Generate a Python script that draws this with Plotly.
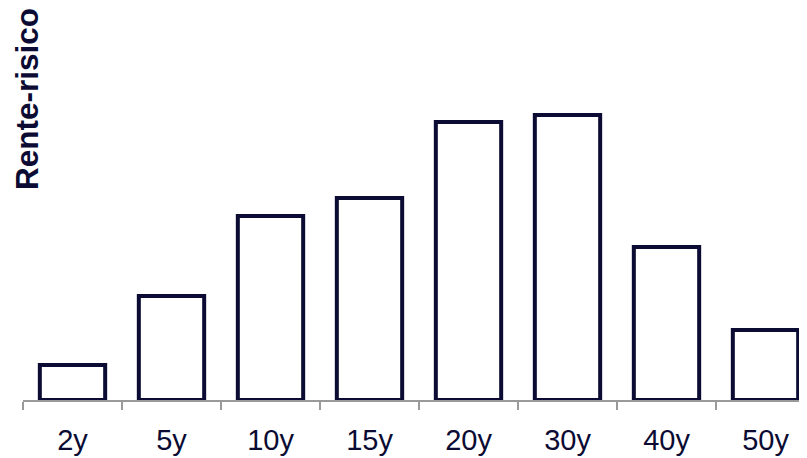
import plotly.graph_objects as go

categories = ["2y", "5y", "10y", "15y", "20y", "30y", "40y", "50y"]
values = [35, 104, 184, 202, 278, 285, 153, 70]
y_title = "Rente-risico"

navy = "#0b0b33"

fig = go.Figure(
    go.Bar(
        x=categories,
        y=values,
        marker=dict(color="white", line=dict(color=navy, width=4)),
        width=0.66,
    )
)

fig.update_layout(
    width=807,
    height=458,
    margin=dict(l=15, r=0, t=2, b=66),
    paper_bgcolor="white",
    plot_bgcolor="white",
    showlegend=False,
    font=dict(family="Liberation Sans, Arial, sans-serif", color=navy),
)

fig.update_xaxes(
    type="category",
    range=[-0.5, 7.5],
    showline=True,
    linecolor="#9a9a9a",
    linewidth=1.5,
    ticks="outside",
    tickson="boundaries",
    ticklen=8,
    tickwidth=1.5,
    tickcolor="#9a9a9a",
    tickfont=dict(size=29, color=navy),
    showgrid=False,
    zeroline=False,
    layer="below traces",
    ticklabelstandoff=13,
)

fig.update_yaxes(
    range=[0, 390],
    visible=False,
    showgrid=False,
)

fig.add_annotation(
    text="<b>" + y_title + "</b>",
    xref="paper",
    yref="paper",
    x=0.005,
    y=394 / 390,
    xanchor="center",
    yanchor="top",
    textangle=-90,
    showarrow=False,
    font=dict(size=31.5, color=navy, family="Liberation Sans, Arial, sans-serif"),
)

fig.write_html("out.html")
